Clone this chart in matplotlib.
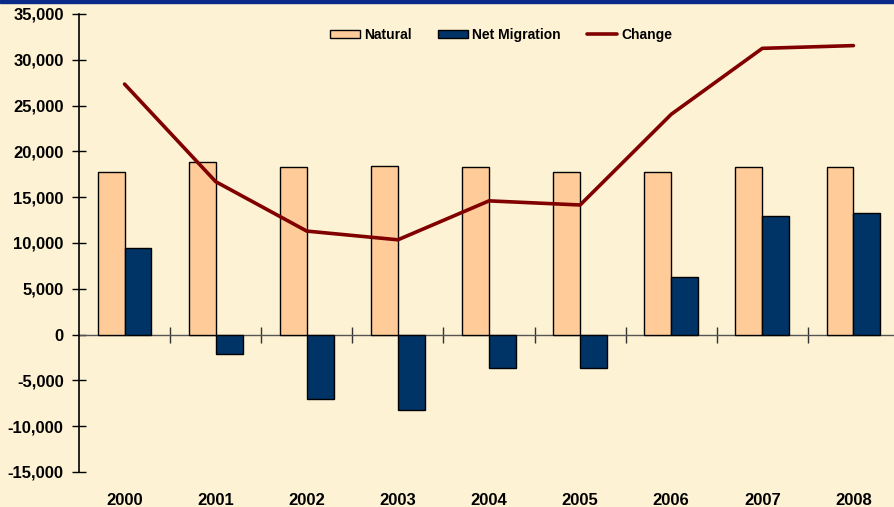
import matplotlib.pyplot as plt
import matplotlib.ticker as mticker
import numpy as np

years = ['2000', '2001', '2002', '2003', '2004', '2005', '2006', '2007', '2008']
natural = [17800, 18800, 18300, 18400, 18300, 17800, 17750, 18350, 18350]
net_migration = [9500, -2100, -7000, -8200, -3650, -3650, 6300, 12950, 13250]
change = [27350, 16700, 11300, 10350, 14600, 14150, 24050, 31250, 31550]

bg = '#FDF2D4'
plt.rcParams['font.family'] = ['Liberation Sans', 'DejaVu Sans']
plt.rcParams['font.weight'] = 'bold'
plt.rcParams['axes.unicode_minus'] = False

fig = plt.figure(figsize=(8.94, 5.07), dpi=100, facecolor=bg)
ax = fig.add_axes([79 / 894, 35 / 507, 820 / 894, 458 / 507])
ax.set_facecolor(bg)

x = np.arange(len(years))
w = 0.295
b1 = ax.bar(x - w / 2, natural, w, color='#FFCC99', edgecolor='black', linewidth=1.0,
            label='Natural', zorder=3)
b2 = ax.bar(x + w / 2, net_migration, w, color='#003366', edgecolor='black', linewidth=1.0,
            label='Net Migration', zorder=3)
l1, = ax.plot(x, change, color='#800000', linewidth=2.6, label='Change', zorder=4,
              solid_capstyle='round')

ax.set_xlim(-0.5, len(years) - 0.5)
ax.set_ylim(-15000, 35000)
ax.set_yticks(np.arange(-15000, 35001, 5000))
ax.yaxis.set_major_formatter(mticker.StrMethodFormatter('{x:,.0f}'))
ax.tick_params(axis='y', direction='inout', length=10, width=1, labelsize=12, pad=6)
ax.set_xticks(x)
ax.set_xticklabels(years)
ax.tick_params(axis='x', length=0, labelsize=12, pad=15)
for lab in ax.get_xticklabels() + ax.get_yticklabels():
    lab.set_fontweight('bold')

for s in ['top', 'right', 'bottom']:
    ax.spines[s].set_visible(False)
ax.spines['left'].set_linewidth(1.2)

# zero line with category separators
ax.axhline(0, color='#555555', linewidth=1.0, zorder=2)
sec = ax.secondary_xaxis(15000 / 50000)
sec.set_xticks(x[:-1] + 0.5)
sec.tick_params(direction='inout', length=11, width=1, color='#333333', labelbottom=False,
                labeltop=False)
sec.spines['bottom'].set_visible(False)
sec.spines['top'].set_visible(False)

fig.legend(handles=[b1, b2, l1], loc='center', bbox_to_anchor=(0.5604, 0.931), ncol=3,
           frameon=False, prop={'weight': 'bold', 'size': 10}, handlelength=2.15,
           handleheight=0.6, handletextpad=0.3, columnspacing=1.9)

# dark blue band at the top
fig.patches.append(plt.Rectangle((0, 1 - 3 / 507), 1, 3 / 507, transform=fig.transFigure,
                                 color='#0A2A8A', zorder=10))

fig.savefig('out.png', dpi=100, facecolor=bg)
